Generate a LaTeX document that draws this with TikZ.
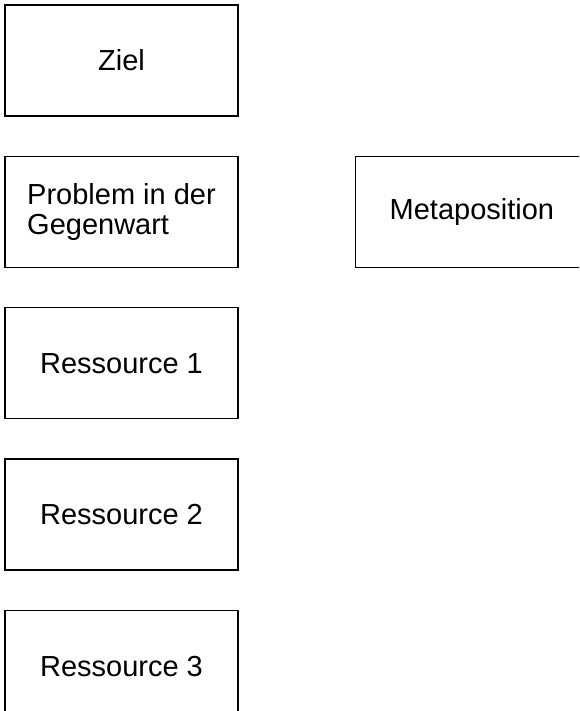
\documentclass[tikz,border=0pt]{standalone}
\usepackage{fontspec}
\setmainfont{Liberation Sans}
\usetikzlibrary{positioning}

\begin{document}
\begin{tikzpicture}[x=1pt,y=1pt,node distance=39pt and 116pt,
    box/.style={draw,line width=1.4pt,rectangle,minimum width=233pt,minimum height=111pt,
        inner sep=0pt,align=left,font=\fontsize{29}{30}\selectfont}]
            \clip (0,0) rectangle (579,711);
            \useasboundingbox (0,0) rectangle (579,711);
            \node[box] (ziel) at (121.5,650.5) {Ziel};
            \node[box] (problem) [below=of ziel] {Problem in der\\Gegenwart};
            \node[box] (meta) [right=of problem] {Metaposition};
            \node[box] (res1) [below=of problem] {Ressource 1};
            \node[box] (res2) [below=of res1] {Ressource 2};
            \node[box] (res3) [below=of res2] {Ressource 3};
        \end{tikzpicture}
\end{document}
